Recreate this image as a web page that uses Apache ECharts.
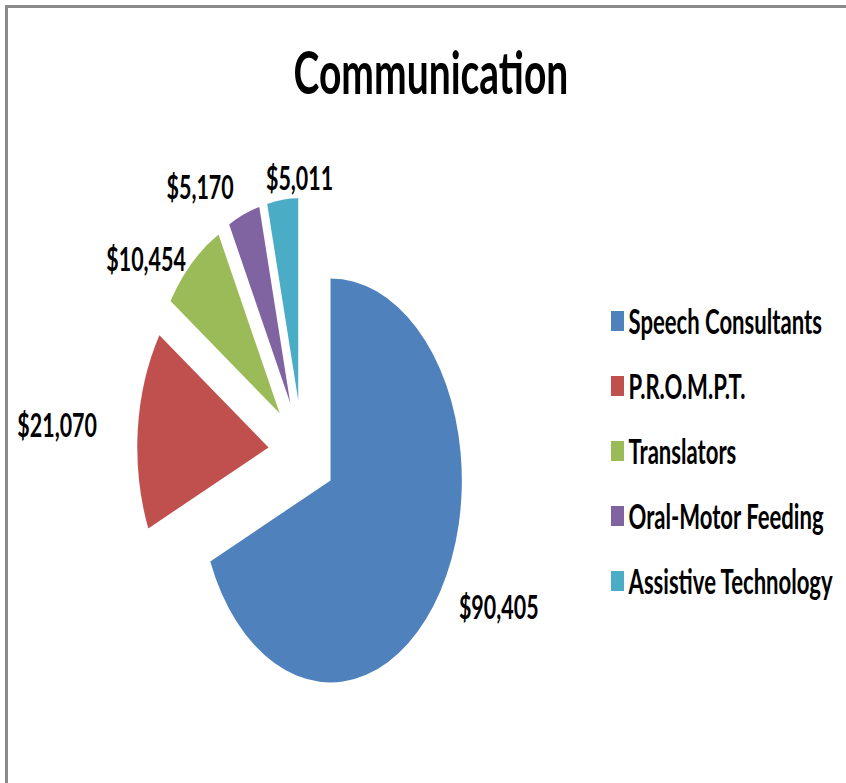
<!DOCTYPE html>
<html>
<head>
<meta charset="utf-8">
<title>Communication</title>
<script src="https://cdn.jsdelivr.net/npm/echarts@6/dist/echarts.min.js"></script>
<style>
  html, body { margin: 0; padding: 0; background: #fff; overflow: hidden; }
  #frame {
    position: absolute; left: 5px; top: 5px; width: 1000px; height: 1000px;
    border-top: 3px solid #8a8a8a; border-left: 3px solid #8a8a8a;
  }
  /* the original picture is squeezed sideways, so draw wide and squeeze */
  #chart {
    position: absolute; left: 0; top: 0;
    width: 1302px; height: 783px;
    transform: scaleX(0.65); transform-origin: 0 0;
  }
</style>
</head>
<body>
<div id="frame"></div>
<div id="chart"></div>
<script>
  // 数据
  const categories = ['Speech Consultants', 'P.R.O.M.P.T.', 'Translators', 'Oral-Motor Feeding', 'Assistive Technology']
  const amounts = [90405, 21070, 10454, 5170, 5011]
  const colors = ['#4F81BD', '#C0504D', '#9BBB59', '#8064A2', '#4BACC6']
  // 标签离饼边的距离
  const labelGaps = [28, 58, 6, 30, 22]

  const myChart = echarts.init(document.getElementById('chart'), null, { renderer: 'svg' })

  myChart.setOption({
    animation: false,
    title: {
      text: 'Communication',
      left: 658,
      top: 36,
      textAlign: 'center',
      textStyle: {
        fontFamily: 'Lato',
        fontWeight: 'bold',
        fontSize: 60,
        color: '#000'
      }
    },
    legend: {
      orient: 'vertical',
      left: 935,
      top: 299,
      icon: 'rect',
      itemWidth: 20,
      itemHeight: 20,
      itemGap: 31,
      selectedMode: false,
      textStyle: {
        fontFamily: 'Lato',
        fontWeight: 'bold',
        fontSize: 34,
        color: '#000',
        padding: [0, 0, 0, 2]
      },
      data: categories
    },
    series: [
      {
        type: 'pie',
        center: [465, 452],
        radius: 202,
        startAngle: 90,
        clockwise: true,
        selectedMode: 'multiple',
        selectedOffset: 52,
        avoidLabelOverlap: false,
        label: {
          show: true,
          position: 'outside',
          fontFamily: 'Lato',
          fontWeight: 'bold',
          fontSize: 33,
          color: '#000',
          formatter: (p) => '$' + p.value.toLocaleString('en-US')
        },
        labelLine: { show: false, length: 20, length2: 0 },
        // 最后一块的标签放在右边
        labelLayout: (params) => params.dataIndex === 4
          ? { align: 'left', dx: -18, hideOverlap: false }
          : { hideOverlap: false },
        emphasis: { disabled: true },
        data: categories.map((name, i) => ({
          name: name,
          value: amounts[i],
          selected: true,
          itemStyle: { color: colors[i] },
          labelLine: { length: labelGaps[i], length2: 0 }
        }))
      }
    ]
  })
</script>
</body>
</html>
